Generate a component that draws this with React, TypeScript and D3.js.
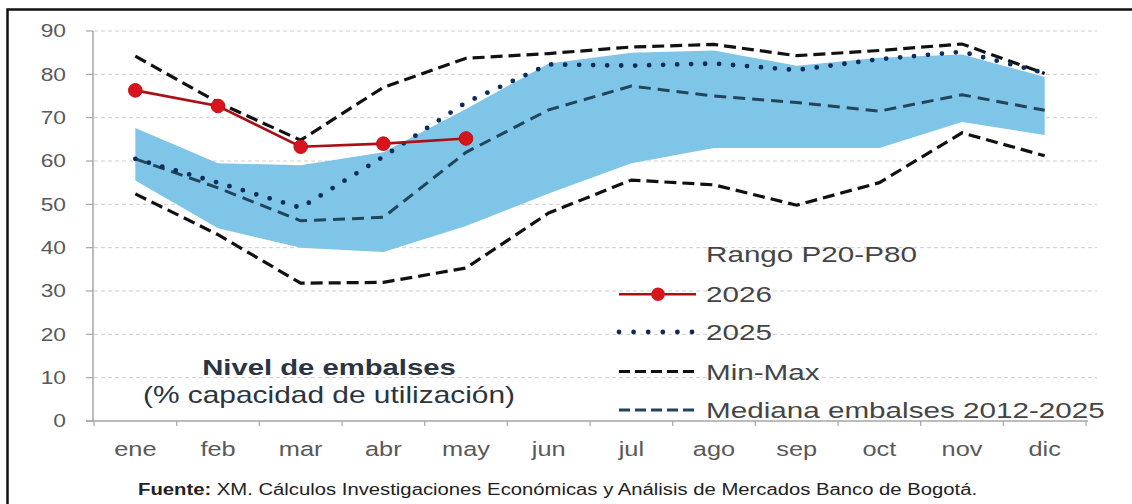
import React, { useLayoutEffect } from "react";
import * as d3 from "d3";

const months = ["ene", "feb", "mar", "abr", "may", "jun", "jul", "ago", "sep", "oct", "nov", "dic"];
const p20 = [55.5, 44.5, 40, 39, 45, 52.5, 59.5, 63, 63, 63, 69, 66];
const p80 = [67.6, 59.5, 59, 62, 72, 82.5, 85, 85.5, 82, 83.8, 84.6, 79.4];
const minVals = [52.4, 43, 31.8, 32, 35.3, 48, 55.6, 54.5, 49.8, 55, 66.5, 61.2];
const maxVals = [84.2, 73.5, 64.8, 77, 83.7, 84.8, 86.3, 86.9, 84.3, 85.5, 87, 80.2];
const medianVals = [60.5, 53.8, 46.2, 47, 62, 71.8, 77.3, 75, 73.5, 71.5, 75.3, 71.7];
const vals2025 = [60.5, 55, 49.2, 61, 73.5, 82.3, 82, 82.5, 81, 83.5, 85.2, 80.3];
const vals2026 = [76.3, 72.7, 63.3, 64, 65.2];
const yTicks = [0, 10, 20, 30, 40, 50, 60, 70, 80, 90];

const legendItems = ["Rango P20-P80", "2026", "2025", "Min-Max", "Mediana embalses 2012-2025"];
const titleText = "Nivel de embalses";
const subtitleText = "(% capacidad de utilización)";
const sourceBold = "Fuente:";
const sourceText = " XM. Cálculos Investigaciones Económicas y Análisis de Mercados Banco de Bogotá.";

const W = 1132;
const H = 504;
const SX = 1.3;
const FONT = "'Liberation Sans', Arial, sans-serif";

const x = d3.scaleBand<string>().domain(months).range([94, 1086]).paddingInner(0).paddingOuter(0);
const y = d3.scaleLinear().domain([0, 90]).range([421, 31]);
const cx = (i: number) => (x(months[i]) as number) + x.bandwidth() / 2;

const lineGen = d3
  .line<number>()
  .x((_, i) => cx(i))
  .y((d) => y(d))
  .curve(d3.curveLinear);

const areaGen = d3
  .area<number>()
  .x((_, i) => cx(i))
  .y0((_, i) => y(p20[i]))
  .y1((d) => y(d))
  .curve(d3.curveLinear);

function SText(props: {
  x: number;
  y: number;
  size: number;
  anchor?: string;
  weight?: string | number;
  fill?: string;
  children: React.ReactNode;
}) {
  const { x: tx, y: ty, size, anchor = "start", weight = "normal", fill = "#404040", children } = props;
  return (
    <text
      transform={`translate(${tx},${ty}) scale(${SX},1)`}
      fontSize={size}
      fontFamily={FONT}
      textAnchor={anchor}
      fontWeight={weight}
      fill={fill}
    >
      {children}
    </text>
  );
}

export default function App() {
  useLayoutEffect(() => {
    document.body.style.margin = "0";
  }, []);

  const legendX0 = 619;
  const legendX1 = 696;
  const legendTextX = 706;
  const legendYs = [254, 294.3, 332, 371.5, 410];

  return (
    <svg width={W} height={H} style={{ display: "block", background: "#ffffff" }}>
      {/* frame */}
      <path d={`M7.5,${H + 5} L7.5,9.5 L${W + 5},9.5`} fill="none" stroke="#111" strokeWidth={2.5} />

      {/* gridlines */}
      {yTicks.map((t) =>
        t === 0 ? null : (
          <line
            key={`g${t}`}
            x1={94}
            x2={1097}
            y1={y(t)}
            y2={y(t)}
            stroke="#cfcfcf"
            strokeWidth={1}
            strokeDasharray="4 3"
          />
        )
      )}

      {/* band */}
      <path d={areaGen(p80) || ""} fill="#7fc5e7" />

      {/* median */}
      <path d={lineGen(medianVals) || ""} fill="none" stroke="#22455c" strokeWidth={3} strokeDasharray="12 7" />
      {/* min / max */}
      <path d={lineGen(minVals) || ""} fill="none" stroke="#111" strokeWidth={3.2} strokeDasharray="12 6" />
      <path d={lineGen(maxVals) || ""} fill="none" stroke="#111" strokeWidth={3.2} strokeDasharray="12 6" />
      {/* 2025 */}
      <path
        d={lineGen(vals2025) || ""}
        fill="none"
        stroke="#0d2b5c"
        strokeWidth={4.8}
        strokeLinecap="round"
        strokeDasharray="0 14"
      />
      {/* 2026 */}
      <path d={lineGen(vals2026) || ""} fill="none" stroke="#a80f16" strokeWidth={2.6} />
      {vals2026.map((v, i) => (
        <circle key={`p${i}`} cx={cx(i)} cy={y(v)} r={6.8} fill="#d7131c" stroke="#c0101a" strokeWidth={1} />
      ))}

      {/* y axis */}
      <line x1={93} x2={93} y1={y(90)} y2={y(0)} stroke="#a6a6a6" strokeWidth={1.5} />
      {yTicks.map((t) => (
        <g key={`yt${t}`}>
          <line x1={86} x2={93} y1={y(t)} y2={y(t)} stroke="#a6a6a6" strokeWidth={1.2} />
          <SText x={66} y={y(t) + 6.2} size={17.5} anchor="end" fill="#595959">
            {t}
          </SText>
        </g>
      ))}

      {/* x axis */}
      <line x1={86} x2={1088} y1={y(0)} y2={y(0)} stroke="#a6a6a6" strokeWidth={1.5} />
      {months.map((m) => (
        <line
          key={`xt${m}`}
          x1={x(m) as number}
          x2={x(m) as number}
          y1={y(0)}
          y2={y(0) + 5}
          stroke="#a6a6a6"
          strokeWidth={1.2}
        />
      ))}
      <line x1={1086} x2={1086} y1={y(0)} y2={y(0) + 5} stroke="#a6a6a6" strokeWidth={1.2} />
      {months.map((m, i) => (
        <SText key={`xl${m}`} x={cx(i)} y={456} size={19.5} anchor="middle" fill="#595959">
          {m}
        </SText>
      ))}

      {/* legend */}
      <line x1={legendX0} x2={legendX1} y1={legendYs[1]} y2={legendYs[1]} stroke="#a80f16" strokeWidth={2.6} />
      <circle cx={(legendX0 + legendX1) / 2 + 0.5} cy={legendYs[1]} r={6.8} fill="#d7131c" />
      <line
        x1={legendX0}
        x2={legendX1}
        y1={legendYs[2]}
        y2={legendYs[2]}
        stroke="#0d2b5c"
        strokeWidth={4.8}
        strokeLinecap="round"
        strokeDasharray="0 14.6"
      />
      <line
        x1={legendX0}
        x2={legendX1}
        y1={legendYs[3]}
        y2={legendYs[3]}
        stroke="#111"
        strokeWidth={3.2}
        strokeDasharray="11 5"
      />
      <line
        x1={legendX0}
        x2={legendX1}
        y1={legendYs[4]}
        y2={legendYs[4]}
        stroke="#22455c"
        strokeWidth={3}
        strokeDasharray="11 5"
      />
      {legendItems.map((label, i) => (
        <SText key={`lg${i}`} x={legendTextX} y={legendYs[i] + 8} size={22.8} fill="#454545">
          {label}
        </SText>
      ))}

      {/* title */}
      <SText x={329} y={374.5} size={22.5} anchor="middle" weight="bold" fill="#2a3541">
        {titleText}
      </SText>
      <SText x={329} y={403} size={23} anchor="middle" fill="#2a3541">
        {subtitleText}
      </SText>

      {/* source */}
      <SText x={138} y={495} size={15.6} fill="#222">
        <tspan fontWeight="bold">{sourceBold}</tspan>
        <tspan>{sourceText}</tspan>
      </SText>
    </svg>
  );
}
